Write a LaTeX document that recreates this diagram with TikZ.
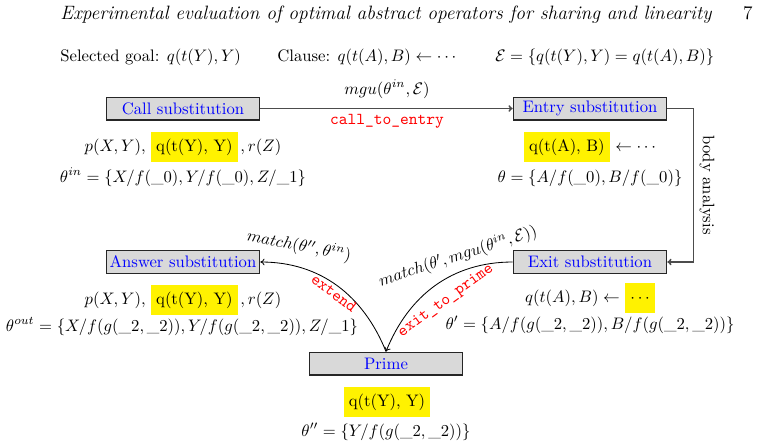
\documentclass[tikz,border=0pt]{standalone}
\usetikzlibrary{arrows.meta}
\newcommand{\hlbox}[1]{{\setlength{\fboxsep}{3pt}\colorbox{yellow}{\strut #1}}}
\begin{document}
\begin{tikzpicture}[x=0.6pt,y=-0.6pt,
  subbox/.style={draw=black!85, line width=0.8pt, fill=black!15, text=blue,
                 minimum width=92pt, minimum height=13.6pt, inner sep=1pt},
  txt/.style={anchor=base, inner sep=0pt},
  fn/.style={text=red, font=\ttfamily, inner sep=0pt},
  conn/.style={draw=black!70, line width=0.9pt, -{To[length=2.5pt,width=4pt]}},
  curve/.style={draw=black, line width=0.5pt, -{To[length=2.5pt,width=4pt]}}]
\useasboundingbox (0,0) rectangle (758,448);

% header
\node[anchor=base west, inner sep=0pt, font=\fontsize{11.6}{13}\selectfont] (hd) at (60,19) {\textit{Experimental evaluation of optimal abstract operators for sharing and linearity}};
\node[anchor=base east, inner sep=0pt, font=\fontsize{11.6}{13}\selectfont] (pg) at (753,19) {7};

% top line
\node[anchor=base west, inner sep=0pt] (goal) at (60,61) {Selected goal: $q(t(Y),Y)$};
\node[anchor=base west, inner sep=0pt] (clause) at (277,61) {Clause: $q(t(A),B)\leftarrow\cdots$};
\node[anchor=base west, inner sep=0pt] (eqs) at (495,61) {$\mathcal{E}=\{q(t(Y),Y)=q(t(A),B)\}$};

% boxes
\node[subbox] (call) at (183,108.5) {Call substitution};
\node[subbox] (entry) at (590,108.5) {Entry substitution};
\node[subbox] (exit) at (590,262) {Exit substitution};
\node[subbox] (answer) at (183,262) {Answer substitution};
\node[subbox] (prime) at (386,363.5) {Prime};

% call -> entry
\draw[conn] (call) -- (entry);
\node[txt] (mgulbl) at (387,94) {$mgu(\theta^{in},\mathcal{E})$};
\node[fn, anchor=base] (cte) at (387,124) {call\_to\_entry};

% body analysis
\draw[conn] (entry.east) -- ++(26,0) coordinate (ba) |- (exit.east);
\node[rotate=-90, inner sep=0pt] (balbl) at (707,185) {body analysis};

% curves
\draw[curve] (exit.west) to[out=180,in=68] (prime.north);
\draw[curve] (prime.north) to[out=112,in=0] (answer.east);
\node[inner sep=0pt, rotate=-11] (m1) at (299,246) {$match(\theta'',\theta^{in})$};
\node[fn, rotate=-37] (ext) at (334,293) {extend};
\node[inner sep=0pt, rotate=18] (m2) at (458,256) {$match(\theta',mgu(\theta^{in},\mathcal{E}))$};
\node[fn, rotate=36] (etp) at (446,301) {exit\_to\_prime};

% call texts
\node[txt] (c1) at (183,151) {$p(X,Y),$ \hlbox{q(t(Y), Y)}$\,,r(Z)$};
\node[txt] (c2) at (183,182) {$\theta^{in}=\{X/f(\_0),Y/f(\_0),Z/\_1\}$};

% entry texts
\node[txt] (e1) at (590,151) {\hlbox{q(t(A), B)} $\leftarrow\cdots$};
\node[txt] (e2) at (590,182) {$\theta=\{A/f(\_0),B/f(\_0)\}$};

% exit texts
\node[txt] (x1) at (590,302) {$q(t(A),B)\leftarrow$ \hlbox{$\cdots$}};
\node[txt] (x2) at (590,329) {$\theta'=\{A/f(g(\_2,\_2)),B/f(g(\_2,\_2))\}$};

% answer texts
\node[txt] (a1) at (183,304) {$p(X,Y),$ \hlbox{q(t(Y), Y)}$\,,r(Z)$};
\node[txt] (a2) at (182,331) {$\theta^{out}=\{X/f(g(\_2,\_2)),Y/f(g(\_2,\_2)),Z/\_1\}$};

% prime texts
\node[txt] (p1) at (387,406) {\hlbox{q(t(Y), Y)}};
\node[txt] (p2) at (386,436) {$\theta''=\{Y/f(g(\_2,\_2))\}$};
\end{tikzpicture}
\end{document}
